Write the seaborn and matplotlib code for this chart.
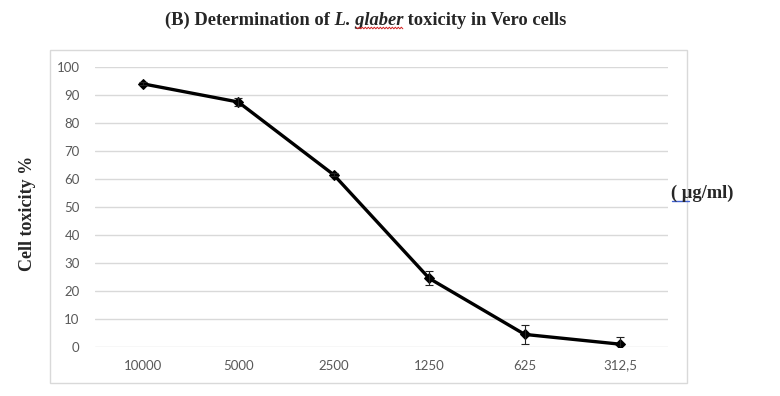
import matplotlib
matplotlib.use("Agg")
import matplotlib.pyplot as plt
import seaborn as sns
import numpy as np
from matplotlib.patches import Rectangle
from matplotlib.lines import Line2D

# concentrations (µg/ml) et toxicité moyenne
concentrations = ["10000", "5000", "2500", "1250", "625", "312,5"]
toxicity = [94.0, 87.5, 61.5, 24.5, 4.5, 1.0]
erreurs = [0.5, 1.5, 0.5, 2.5, 3.5, 2.5]
y_ticks = [0, 10, 20, 30, 40, 50, 60, 70, 80, 90, 100]

sns.set_style("white")
serif = "Liberation Serif"
gris = "#595959"

fig = plt.figure(figsize=(7.8, 3.96), dpi=100)
ax = fig.add_axes([95 / 780, 49 / 396, 573 / 780, 280 / 396])

# cadre du graphique
fig.patches.append(Rectangle((50 / 780, 13 / 396), 637 / 780, 333 / 396,
                             transform=fig.transFigure, fill=False,
                             edgecolor="#d9d9d9", linewidth=1))

sns.lineplot(x=concentrations, y=toxicity, ax=ax, color="black", linewidth=2.4,
             marker="D", markersize=5, markeredgecolor="black", sort=False)
ax.errorbar(concentrations, toxicity, yerr=erreurs, fmt="none", ecolor="#222222",
            elinewidth=0.8, capsize=3, capthick=0.8)

ax.set_xlim(-0.5, 5.5)
ax.set_ylim(0, 100)
ax.set_yticks(y_ticks)
ax.yaxis.grid(True, color="#d9d9d9", linewidth=1)
ax.set_axisbelow(True)
for s in ax.spines.values():
    s.set_visible(False)
ax.tick_params(axis="both", length=0, labelsize=9.5, colors=gris, labelcolor=gris)
ax.tick_params(axis="y", pad=11)
ax.tick_params(axis="x", pad=9)
for lab in ax.get_xticklabels() + ax.get_yticklabels():
    lab.set_fontfamily("Lato")
ax.set_xlabel("")
ax.set_ylabel("")

# titre en plusieurs morceaux (nom d'espèce en italique)
t1 = fig.text(165 / 780, 0.937, "(B) Determination of", family=serif, weight="bold",
              fontsize=13.3, va="baseline", ha="left")
t2 = ax.annotate(" L. glaber", xy=(1, 0), xycoords=t1, family=serif, weight="bold",
                 style="italic", fontsize=13.3, va="bottom", ha="left")
t3 = ax.annotate(" toxicity in Vero cells", xy=(1, 0), xycoords=t2, family=serif,
                 weight="bold", fontsize=13.3, va="bottom", ha="left")

fig.text(27 / 780, 0.46, "Cell toxicity %", family=serif, weight="bold",
         fontsize=13, rotation=90, ha="center", va="center")
unit = fig.text(671 / 780, 0.513, "( µg/ml)", family=serif, weight="bold",
                fontsize=13.3, ha="left", va="center")

# soulignements du correcteur orthographique
fig.canvas.draw()
r = fig.canvas.get_renderer()
bb = t2.get_window_extent(r)
x0 = bb.x0 + (bb.x1 - bb.x0) * 0.36
xs = np.arange(x0, bb.x1, 1.5)
ys = bb.y0 + 1 + np.where(np.arange(len(xs)) % 2 == 0, 0.8, -0.8)
fig.lines.append(Line2D(xs / 780, ys / 396, transform=fig.transFigure,
                        color="#d02020", linewidth=0.7))
ub = unit.get_window_extent(r)
fig.lines.append(Line2D(np.array([ub.x0 + 1, ub.x0 + 18]) / 780,
                        np.array([ub.y0 + 1, ub.y0 + 1]) / 396,
                        transform=fig.transFigure, color="#4060d0", linewidth=1))

fig.savefig("out.png", dpi=100)
